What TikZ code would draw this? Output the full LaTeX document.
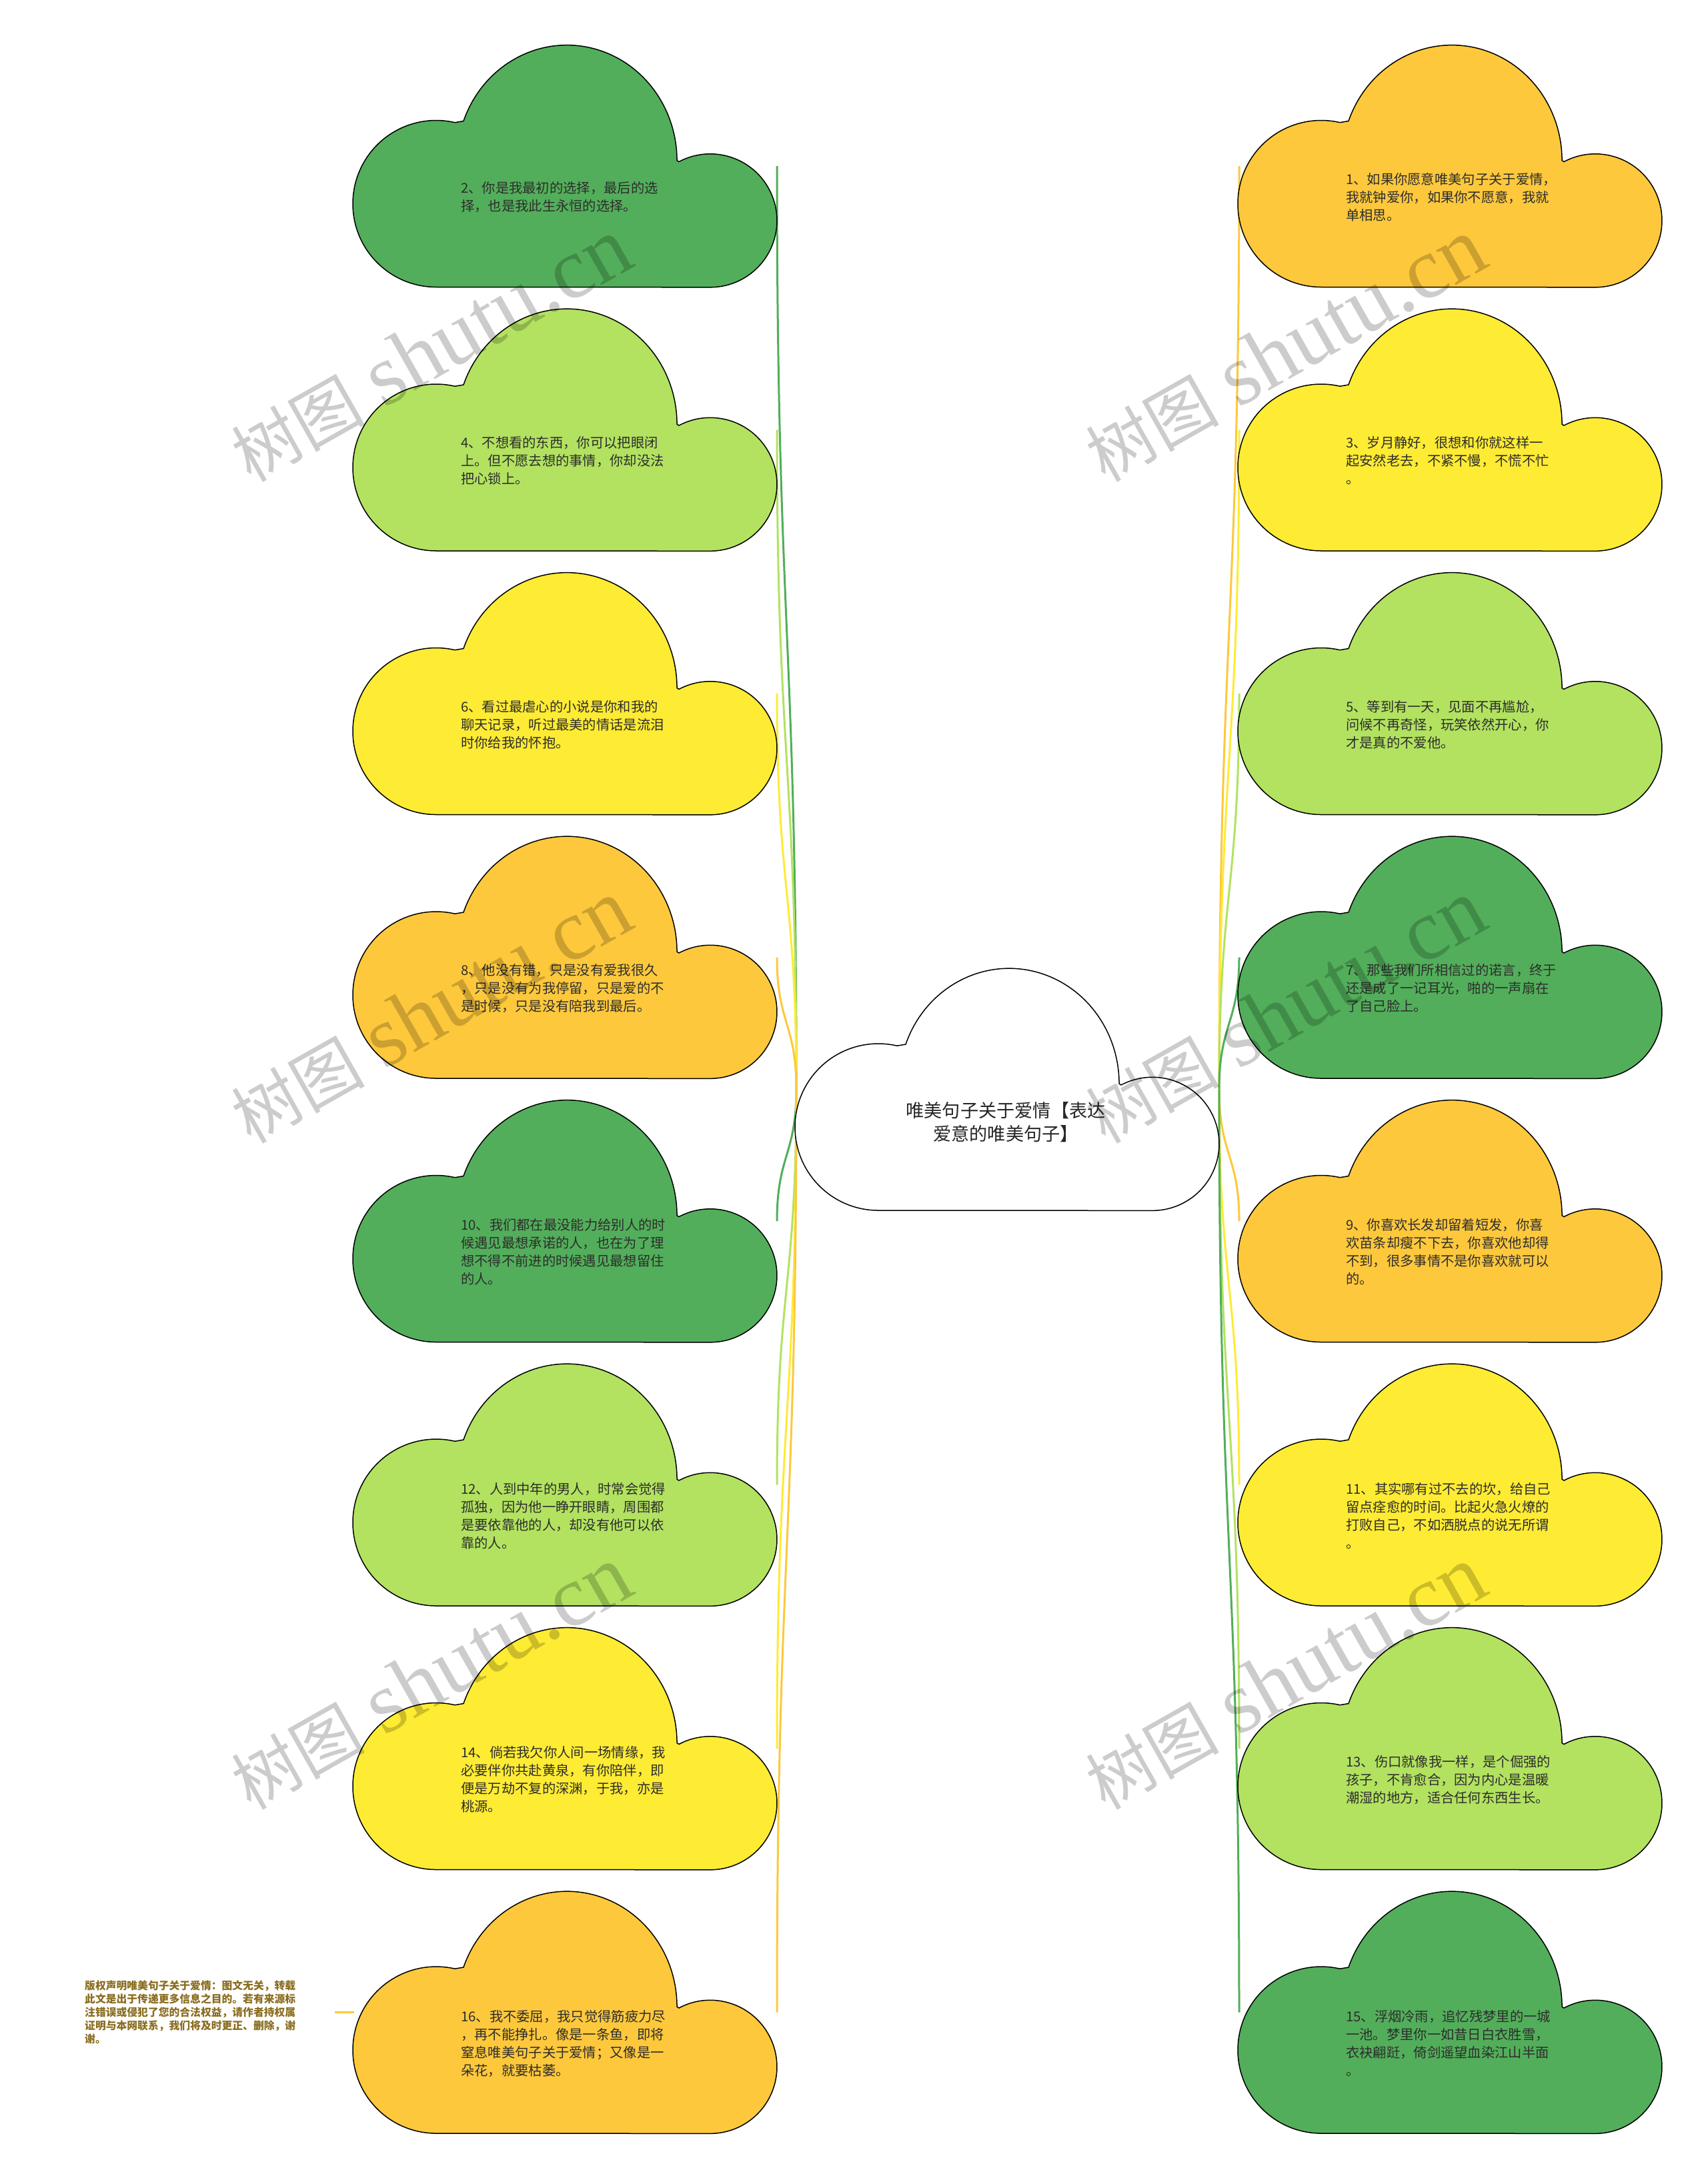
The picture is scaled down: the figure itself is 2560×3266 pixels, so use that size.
\documentclass[tikz,border=0pt]{standalone}
\usepackage{fontspec}
\newfontfamily\cjk{Noto Sans CJK SC}
\newfontfamily\wmlat{Liberation Serif}
\usetikzlibrary{calc}
\definecolor{cdg}{RGB}{82,174,90}
\definecolor{clg}{RGB}{178,226,96}
\definecolor{cyl}{RGB}{254,235,51}
\definecolor{cor}{RGB}{254,200,60}
\definecolor{ctxt}{RGB}{45,45,45}
\definecolor{ccopy}{RGB}{138,109,31}
\tikzset{
  cloudpic/.pic={\path[pic actions] (123,363) arc[start angle=90,end angle=283,radius=125] -- (164,114) arc[start angle=200,end angle=360,x radius=165,y radius=173] -- (487,175) arc[start angle=242,end angle=450,radius=100] -- cycle;},
  cbox/.style={minimum width=634, minimum height=363, inner sep=0, outer sep=0, anchor=north west},
  ctext/.style={anchor=west, align=left, inner sep=0, text=ctxt, font=\cjk\fontsize{20.3}{27}\selectfont},
  conn/.style={line width=3},
  cloudline/.style={draw=black, line width=1.5},
  wm/.style={rotate=29.5, text=black, text opacity=0.2, inner sep=0},
}
\begin{document}
\begin{tikzpicture}[x=1pt,y=-1pt]
\fill[white] (0,0) rectangle (2560,3266);
\useasboundingbox (0,0) rectangle (2560,3266);
% cloud boxes
\node[cbox] (root) at (1194,1452) {};
\foreach \n/\i in {2/0,4/1,6/2,8/3,10/4,12/5,14/6,16/7}
  \node[cbox] (c\n) at (531, 67.5+395.5*\i) {};
\foreach \n/\i in {1/0,3/1,5/2,7/3,9/4,11/5,13/6,15/7}
  \node[cbox] (c\n) at (1858, 67.5+395.5*\i) {};
% connectors
\foreach \n/\c in {2/cdg,4/clg,6/cyl,8/cor,10/cdg,12/clg,14/cyl,16/cor}
  \draw[conn,draw=\c] (root.west) .. controls ($(root.west)!0.5!(root.west |- c\n.east)$) and ($(c\n.east)!0.5!(c\n.east |- root.west)$) .. (c\n.east);
\foreach \n/\c in {1/cor,3/cyl,5/clg,7/cdg,9/cor,11/cyl,13/clg,15/cdg}
  \draw[conn,draw=\c] (root.east) .. controls ($(root.east)!0.5!(root.east |- c\n.west)$) and ($(c\n.west)!0.5!(c\n.west |- root.east)$) .. (c\n.west);
% clouds
\foreach \n/\c in {2/cdg,4/clg,6/cyl,8/cor,10/cdg,12/clg,14/cyl,16/cor,1/cor,3/cyl,5/clg,7/cdg,9/cor,11/cyl,13/clg,15/cdg}
  \pic[fill=\c,cloudline] at (c\n.north west) {cloudpic};
\pic[fill=white,cloudline] at (root.north west) {cloudpic};
% texts
\node[align=center, inner sep=0, text=black!85, font=\cjk\fontsize{27.2}{35}\selectfont] (rt) at ($(root.north west)+(314,231)$) {唯美句子关于爱情【表达\\爱意的唯美句子】};
\node[ctext] (t2) at ($(c2.north west)+(160,228)$) {2、你是我最初的选择，最后的选\\择，也是我此生永恒的选择。};
\node[ctext] (t4) at ($(c4.north west)+(160,228)$) {4、不想看的东西，你可以把眼闭\\上。但不愿去想的事情，你却没法\\把心锁上。};
\node[ctext] (t6) at ($(c6.north west)+(160,228)$) {6、看过最虐心的小说是你和我的\\聊天记录，听过最美的情话是流泪\\时你给我的怀抱。};
\node[ctext] (t8) at ($(c8.north west)+(160,228)$) {8、他没有错，只是没有爱我很久\\，只是没有为我停留，只是爱的不\\是时候，只是没有陪我到最后。};
\node[ctext] (t10) at ($(c10.north west)+(160,228)$) {10、我们都在最没能力给别人的时\\候遇见最想承诺的人，也在为了理\\想不得不前进的时候遇见最想留住\\的人。};
\node[ctext] (t12) at ($(c12.north west)+(160,228)$) {12、人到中年的男人，时常会觉得\\孤独，因为他一睁开眼睛，周围都\\是要依靠他的人，却没有他可以依\\靠的人。};
\node[ctext] (t14) at ($(c14.north west)+(160,228)$) {14、倘若我欠你人间一场情缘，我\\必要伴你共赴黄泉，有你陪伴，即\\便是万劫不复的深渊，于我，亦是\\桃源。};
\node[ctext] (t16) at ($(c16.north west)+(160,228)$) {16、我不委屈，我只觉得筋疲力尽\\，再不能挣扎。像是一条鱼，即将\\窒息唯美句子关于爱情；又像是一\\朵花，就要枯萎。};
\node[ctext] (t1) at ($(c1.north west)+(160,228)$) {1、如果你愿意唯美句子关于爱情，\\我就钟爱你，如果你不愿意，我就\\单相思。};
\node[ctext] (t3) at ($(c3.north west)+(160,228)$) {3、岁月静好，很想和你就这样一\\起安然老去，不紧不慢，不慌不忙\\。};
\node[ctext] (t5) at ($(c5.north west)+(160,228)$) {5、等到有一天，见面不再尴尬，\\问候不再奇怪，玩笑依然开心，你\\才是真的不爱他。};
\node[ctext] (t7) at ($(c7.north west)+(160,228)$) {7、那些我们所相信过的诺言，终于\\还是成了一记耳光，啪的一声扇在\\了自己脸上。};
\node[ctext] (t9) at ($(c9.north west)+(160,228)$) {9、你喜欢长发却留着短发，你喜\\欢苗条却瘦不下去，你喜欢他却得\\不到，很多事情不是你喜欢就可以\\的。};
\node[ctext] (t11) at ($(c11.north west)+(160,228)$) {11、其实哪有过不去的坎，给自己\\留点痊愈的时间。比起火急火燎的\\打败自己，不如洒脱点的说无所谓\\。};
\node[ctext] (t13) at ($(c13.north west)+(160,228)$) {13、伤口就像我一样，是个倔强的\\孩子，不肯愈合，因为内心是温暖\\潮湿的地方，适合任何东西生长。};
\node[ctext] (t15) at ($(c15.north west)+(160,228)$) {15、浮烟冷雨，追忆残梦里的一城\\一池。梦里你一如昔日白衣胜雪，\\衣袂翩跹，倚剑遥望血染江山半面\\。};
% copyright note
\node[anchor=west, align=left, inner sep=0, text=ccopy, font=\cjk\bfseries\fontsize{15.8}{20}\selectfont] (cp) at (127,3017) {版权声明唯美句子关于爱情：图文无关，转载\\此文是出于传递更多信息之目的。若有来源标\\注错误或侵犯了您的合法权益，请作者持权属\\证明与本网联系，我们将及时更正、删除，谢\\谢。};
\coordinate (cpe) at ($(c16.west)+(-29,0)$);
\draw[conn,draw=cor] (cpe) -- (c16.west);
% watermarks
\foreach \k/\x/\y in {1/646/525,2/1927/525,3/646/1517,4/1927/1517,5/646/2516,6/1927/2516}
  \node[wm] (wm\k) at (\x,\y) {{\cjk\fontsize{100}{100}\selectfont 树图}\hspace{28pt}{\wmlat\fontsize{130}{130}\selectfont shutu.cn}};
\end{tikzpicture}
\end{document}
